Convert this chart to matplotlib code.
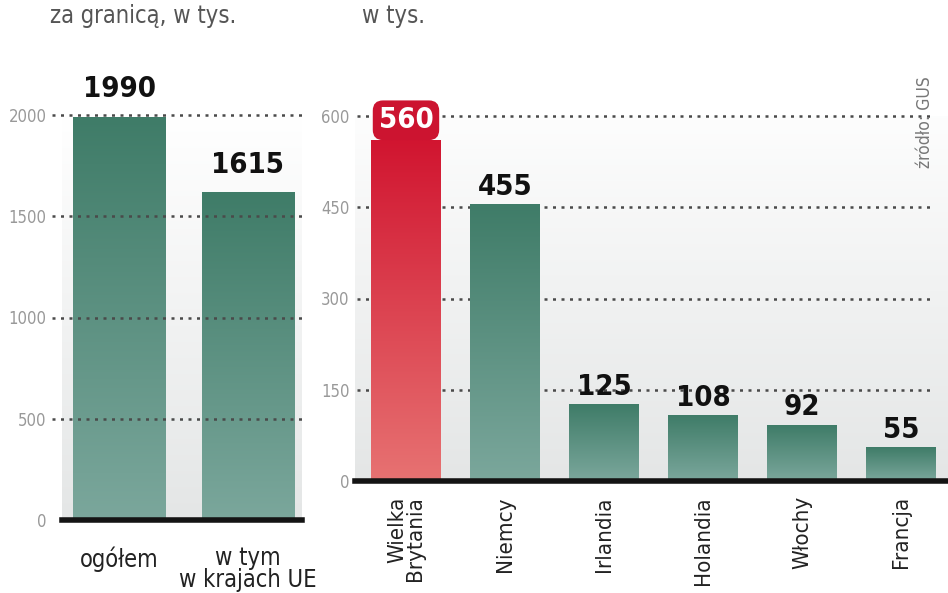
import numpy as np
import matplotlib.pyplot as plt
from matplotlib.colors import LinearSegmentedColormap

# Data
left_labels = ['ogółem', 'w tym\nw krajach UE']
left_values = [1990, 1615]
left_ticks = [0, 500, 1000, 1500, 2000]

right_labels = ['Wielka\nBrytania', 'Niemcy', 'Irlandia', 'Holandia', 'Włochy', 'Francja']
right_values = [560, 455, 125, 108, 92, 55]
right_ticks = [0, 150, 300, 450, 600]

plt.rcParams['font.family'] = ['DejaVu Sans']

green = LinearSegmentedColormap.from_list('g', ['#7ba79c', '#3f7c68'])
red = LinearSegmentedColormap.from_list('r', ['#e77272', '#d11530'])
bg = LinearSegmentedColormap.from_list('bg', ['#e4e6e6', '#ffffff'])
grad = np.linspace(0, 1, 256).reshape(-1, 1)

num_font = dict(family='DejaVu Sans', fontstretch='condensed', fontweight='bold')
lab_font = dict(family='DejaVu Sans', fontstretch='condensed')


def gradient_bars(ax, xs, vals, width, cmaps):
    for x, v, cm in zip(xs, vals, cmaps):
        ax.imshow(grad, cmap=cm, origin='lower', aspect='auto',
                  extent=(x - width / 2, x + width / 2, 0, v), zorder=2)


def style_axis(ax, ticks, ymax, pad):
    ax.set_ylim(0, ymax)
    for s in ax.spines.values():
        s.set_visible(False)
    ax.set_yticks(ticks)
    ax.set_yticklabels([str(t) for t in ticks], color='#999999', fontsize=12,
                       **lab_font)
    ax.tick_params(axis='y', length=0, pad=pad)
    ax.set_xticks([])
    ax.axhline(0, color='#141414', lw=4, zorder=5, clip_on=False)


fig = plt.figure(figsize=(9.48, 5.93), dpi=100)

# ---- left panel
axl = fig.add_axes([62 / 948, 1 - 520 / 593, 240 / 948, 405 / 593])
xl = np.arange(len(left_values))
axl.imshow(grad, cmap=bg, origin='lower', aspect='auto',
           extent=(-0.442, 1.45, 0, 2000), zorder=0)
axl.set_autoscale_on(False)
gradient_bars(axl, xl, left_values, 0.72, [green] * 2)
style_axis(axl, left_ticks, 2000, 11)
axl.set_xlim(-0.442, 1.419)
for t in left_ticks[1:]:
    axl.plot([-0.52, 1.45], [t, t], color='#4a4a4a', lw=1.8,
             ls=(0, (1.2, 2.2)), zorder=4, clip_on=False)
for x, v in zip(xl, left_values):
    axl.text(x, v + 70, str(v), ha='center', va='bottom', fontsize=21,
             color='#111111', **num_font)
for x, lab in zip(xl, left_labels):
    axl.text(x, -130, lab, ha='center', va='top', fontsize=17,
             color='#222222', linespacing=0.9, **lab_font)

# ---- right panel
axr = fig.add_axes([355 / 948, 1 - 481 / 593, 593 / 948, 365 / 593])
xr = np.arange(len(right_values))
axr.imshow(grad, cmap=bg, origin='lower', aspect='auto',
           extent=(-0.515, 5.475, 0, 650), zorder=0)
axr.set_autoscale_on(False)
gradient_bars(axr, xr, right_values, 0.707, [red] + [green] * 5)
style_axis(axr, right_ticks, 600, 4)
axr.set_xlim(-0.515, 5.475)
for t in right_ticks[1:]:
    axr.plot([-0.49, 5.33], [t, t], color='#4a4a4a', lw=1.8,
             ls=(0, (1.2, 2.2)), zorder=1, clip_on=False)
for i, (x, v) in enumerate(zip(xr, right_values)):
    if i == 0:
        axr.text(x, v + 10, str(v), ha='center', va='bottom', fontsize=21,
                 color='white',
                 bbox=dict(boxstyle='round,pad=0.2,rounding_size=0.35',
                           fc='#cc1430', ec='none'), **num_font)
    else:
        axr.text(x, v + 6, str(v), ha='center', va='bottom', fontsize=21,
                 color='#111111', **num_font)
for x, lab in zip(xr, right_labels):
    axr.text(x, -25, lab, ha='center', va='top', rotation=90, fontsize=16,
             color='#222222', linespacing=0.85, multialignment='right',
             **lab_font)

axr.text(5.24, 590, 'źródło: GUS', rotation=90, ha='center', va='center',
         fontsize=12.5, color='#777777', **lab_font)

# titles (cropped at the top in the original)
fig.text(50 / 948, 1 - 16 / 593, 'za granicą, w tys.', fontsize=17,
         color='#555555', va='center', ha='left', **lab_font)
fig.text(362 / 948, 1 - 16 / 593, 'w tys.', fontsize=17,
         color='#555555', va='center', ha='left', **lab_font)

fig.savefig('out.png', dpi=100)
